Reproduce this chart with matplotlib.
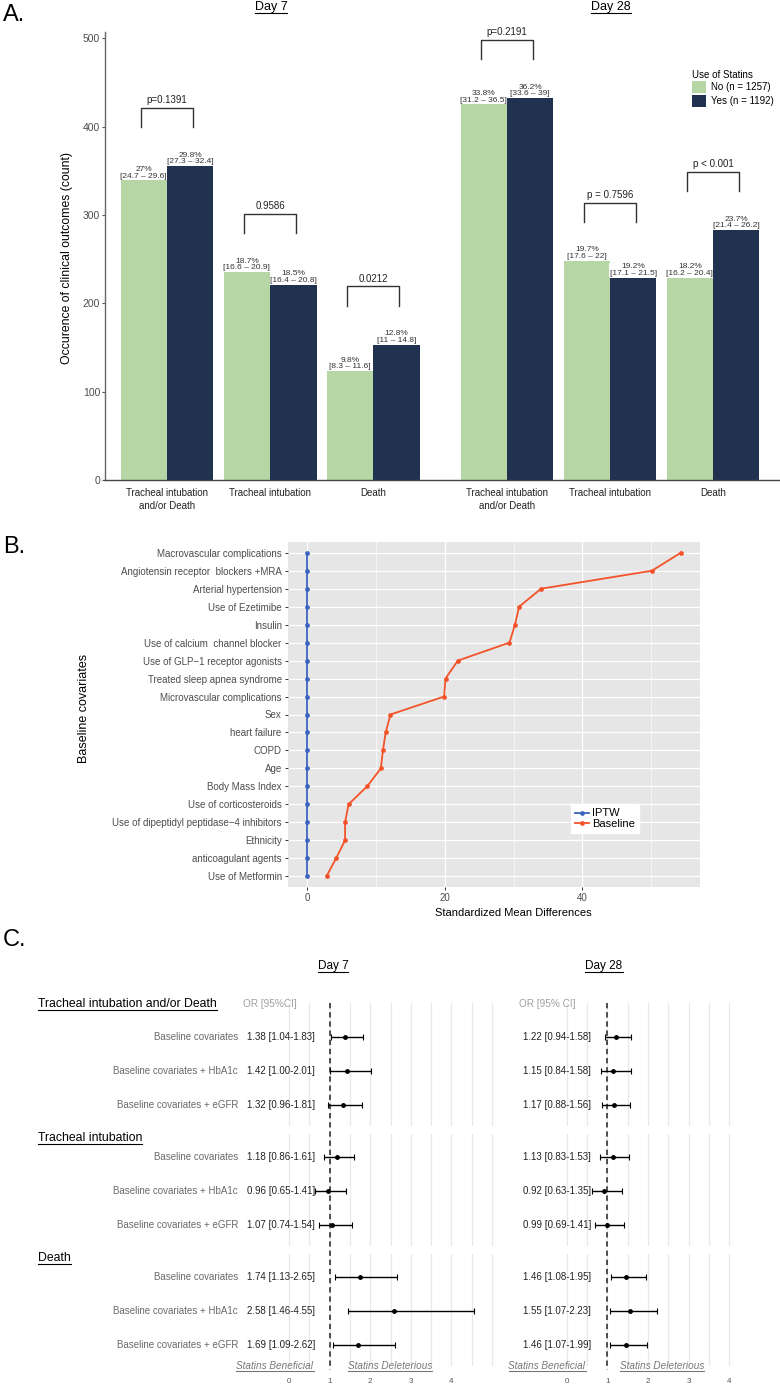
import numpy as np
import matplotlib
matplotlib.use('Agg')
import matplotlib.pyplot as plt
from matplotlib.lines import Line2D
from matplotlib import transforms

# ---- Panel A : clinical outcomes ----
outcomes = ['Tracheal intubation\nand/or Death', 'Tracheal intubation', 'Death']
days = ['Day 7', 'Day 28']
count_no = [339, 235, 123, 425, 248, 229]
count_yes = [355, 221, 153, 432, 229, 283]
pct_no = ['27%', '18.7%', '9.8%', '33.8%', '19.7%', '18.2%']
ci_no = ['24.7 – 29.6', '16.6 – 20.9', '8.3 – 11.6', '31.2 – 36.5', '17.6 – 22', '16.2 – 20.4']
pct_yes = ['29.8%', '18.5%', '12.8%', '36.2%', '19.2%', '23.7%']
ci_yes = ['27.3 – 32.4', '16.4 – 20.8', '11 – 14.8', '33.6 – 39', '17.1 – 21.5', '21.4 – 26.2']
p_values = ['p=0.1391', '0.9586', '0.0212', 'p=0.2191', 'p = 0.7596', 'p < 0.001']
legend_labels = ['No (n = 1257)', 'Yes (n = 1192)']

# ---- Panel B : standardized mean differences ----
covariates = ['Macrovascular complications', 'Angiotensin receptor  blockers +MRA',
              'Arterial hypertension', 'Use of Ezetimibe', 'Insulin',
              'Use of calcium  channel blocker', 'Use of GLP−1 receptor agonists',
              'Treated sleep apnea syndrome', 'Microvascular complications', 'Sex',
              'heart failure', 'COPD', 'Age', 'Body Mass Index', 'Use of corticosteroids',
              'Use of dipeptidyl peptidase−4 inhibitors', 'Ethnicity',
              'anticoagulant agents', 'Use of Metformin']
smd_baseline = [54.3, 50.1, 34.0, 30.8, 30.2, 29.4, 21.9, 20.1, 19.9, 12.1,
                11.4, 11.0, 10.7, 8.7, 6.0, 5.5, 5.5, 4.2, 2.8]
smd_iptw = [0.0, 0.0, 0.0, 0.0, 0.0, 0.0, 0.0, 0.0, 0.0, 0.0,
            0.0, 0.0, 0.0, 0.0, 0.0, 0.0, 0.0, 0.0, 0.0]

# ---- Panel C : odds ratios ----
sections = ['Tracheal intubation and/or Death', 'Tracheal intubation', 'Death']
models = ['Baseline covariates', 'Baseline covariates + HbA1c', 'Baseline covariates + eGFR']
or_d7 = [1.38, 1.42, 1.32, 1.18, 0.96, 1.07, 1.74, 2.58, 1.69]
lo_d7 = [1.04, 1.00, 0.96, 0.86, 0.65, 0.74, 1.13, 1.46, 1.09]
hi_d7 = [1.83, 2.01, 1.81, 1.61, 1.41, 1.54, 2.65, 4.55, 2.62]
or_d28 = [1.22, 1.15, 1.17, 1.13, 0.92, 0.99, 1.46, 1.55, 1.46]
lo_d28 = [0.94, 0.84, 0.88, 0.83, 0.63, 0.69, 1.08, 1.07, 1.07]
hi_d28 = [1.58, 1.58, 1.56, 1.53, 1.35, 1.41, 1.95, 2.23, 1.99]

GREEN = '#b6d6a6'
NAVY = '#20324f'
BLUE = '#3b63c0'
ORANGE = '#f4532a'

plt.rcParams['font.family'] = ['Liberation Sans', 'DejaVu Sans']

W, H = 780, 1386
fig = plt.figure(figsize=(W / 100, H / 100), dpi=100)


def rect(x0, y0, x1, y1):
    return [x0 / W, 1 - y1 / H, (x1 - x0) / W, (y1 - y0) / H]


def ftext(x, y, s, **kw):
    return fig.text(x / W, 1 - y / H, s, **kw)


to_underline = []

# ================= A =================
axA = fig.add_axes(rect(105, 32, 780, 480))
xpos = np.arange(6) + np.where(np.arange(6) >= 3, 0.30, 0.0)
bw = 0.451
axA.bar(xpos - bw / 2, count_no, bw, color=GREEN, label=legend_labels[0], zorder=2)
axA.bar(xpos + bw / 2, count_yes, bw, color=NAVY, label=legend_labels[1], zorder=2)

lab_kw = dict(ha='center', va='bottom', fontsize=6, color='#333333',
              linespacing=0.9, zorder=3,
              bbox=dict(facecolor='white', edgecolor='none', pad=0.2))
for i in range(6):
    axA.text(xpos[i] - bw / 2, count_no[i] + 1, f'{pct_no[i]}\n[{ci_no[i]}]', **lab_kw)
    axA.text(xpos[i] + bw / 2, count_yes[i] + 1, f'{pct_yes[i]}\n[{ci_yes[i]}]', **lab_kw)
    top = max(count_no[i], count_yes[i]) + 66
    axA.plot([xpos[i] - 0.25, xpos[i] - 0.25, xpos[i] + 0.25, xpos[i] + 0.25],
             [top - 22, top, top, top - 22], color='#333333', lw=1)
    axA.text(xpos[i], top + 3, p_values[i], ha='center', va='bottom',
             fontsize=7, color='#222222')

axA.set_xlim(-0.602, 5.95)
axA.set_ylim(0, 507)
axA.set_yticks([0, 100, 200, 300, 400, 500])
axA.tick_params(axis='y', length=2.5, width=0.8, color='#555555', labelsize=7.5,
                labelcolor='#4d4d4d', pad=1)
axA.set_xticks(xpos)
axA.set_xticklabels(outcomes * 2, fontsize=7, color='#222222', linespacing=1.3)
axA.tick_params(axis='x', length=0, pad=6)
for s in ['top', 'right']:
    axA.spines[s].set_visible(False)
axA.spines['left'].set_color('#666666')
axA.spines['bottom'].set_color('#444444')
axA.spines['left'].set_linewidth(1)
axA.spines['bottom'].set_linewidth(1)

ftext(67, 258, 'Occurence of clinical outcomes (count)', rotation=90, ha='center',
      va='center', fontsize=8.8)
for d, xc in zip(days, [271, 611]):
    to_underline.append(ftext(xc, 7, d, ha='center', va='center', fontsize=9))

legA = axA.legend(loc='upper left', bbox_to_anchor=(688 / W, 1 - 66 / H),
                  bbox_transform=fig.transFigure, frameon=False, title='Use of Statins',
                  fontsize=7, title_fontsize=7, handlelength=1.45, handleheight=1.5,
                  handletextpad=0.5, labelspacing=0.15, alignment='left', borderaxespad=0)

ftext(3, 15, 'A.', fontsize=17, va='center', ha='left')

# ================= B =================
axB = fig.add_axes(rect(288, 542, 700, 887))
axB.set_facecolor('#e6e6e6')
ypos = np.arange(len(covariates))[::-1]
axB.plot(smd_iptw, ypos, color=BLUE, marker='o', ms=2.4, lw=1.3, label='IPTW', zorder=3)
axB.plot(smd_baseline, ypos, color=ORANGE, marker='o', ms=2.4, lw=1.3, label='Baseline',
         zorder=3)
axB.set_xlim(-2.8, 57.1)
axB.set_ylim(-0.6, len(covariates) - 0.4)
axB.set_yticks(ypos)
axB.set_yticklabels(covariates)
axB.set_xticks([0, 20, 40])
axB.set_xticks([10, 30, 50], minor=True)
axB.grid(which='major', color='white', lw=0.9)
axB.grid(which='minor', axis='x', color='white', lw=0.45)
axB.set_axisbelow(True)
axB.tick_params(which='major', length=2.5, width=0.7, color='#333333', labelsize=7,
                labelcolor='#4d4d4d', pad=2)
axB.tick_params(which='minor', length=0)
for s in axB.spines.values():
    s.set_visible(False)
ftext(513, 913, 'Standardized Mean Differences', ha='center', va='center', fontsize=8)
ftext(84, 708, 'Baseline covariates', rotation=90, ha='center', va='center', fontsize=9)
legB = axB.legend(loc='upper left', bbox_to_anchor=(571 / W, 1 - 804 / H),
                  bbox_transform=fig.transFigure, frameon=True, fancybox=False,
                  facecolor='white', edgecolor='white', framealpha=1, fontsize=8,
                  handlelength=1.2, handletextpad=0.3, labelspacing=0.05,
                  borderpad=0.4, borderaxespad=0)
ftext(3, 547, 'B.', fontsize=17, va='center', ha='left')

# ================= C =================
ftext(3, 940, 'C.', fontsize=17, va='center', ha='left')
ROW = 34.0
Y0 = 1037
pitch = 3.53
ytop, ybot = 995, 1370


def setup_forest(rect_px, xlim, gmax, ors, los, his, or_x, or_head, title_x, title):
    ax = fig.add_axes(rect(*rect_px))
    ax.set_xlim(*xlim)
    ax.set_ylim((ybot - Y0) / ROW, (ytop - Y0) / ROW)
    for s in ax.spines.values():
        s.set_visible(False)
    ax.set_yticks([])
    ax.set_xticks([0, 1, 2, 3, 4])
    ax.tick_params(axis='x', length=0, labelsize=5.8, labelcolor='#555555', pad=6)
    yrow = []
    for i in range(len(sections)):
        base = i * pitch
        start = -1.0 if i == 0 else -0.68
        for gx in np.arange(0, gmax + 0.01, 0.5):
            ax.plot([gx, gx], [base + start, base + 2.6], color='#e8e8e8', lw=0.9, zorder=0)
        yrow += [base + j for j in range(len(models))]
    yrow = np.array(yrow)
    ax.plot([1, 1], [-1.0, (ybot - Y0) / ROW], color='#222222', lw=1.1,
            ls=(0, (3.5, 2.5)), zorder=1)
    ors, los, his = np.array(ors), np.array(los), np.array(his)
    ax.errorbar(ors, yrow, xerr=[ors - los, his - ors], fmt='o', ms=2.5, color='black',
                ecolor='black', elinewidth=1, capsize=2, capthick=0.8, zorder=3)
    bt = transforms.blended_transform_factory(fig.transFigure, ax.transData)
    for k in range(len(yrow)):
        ax.text(or_x / W, yrow[k], f'{ors[k]:.2f} [{los[k]:.2f}-{his[k]:.2f}]',
                transform=bt, ha='left', va='center', fontsize=7, color='#222222')
    ax.text(or_x / W - 4 / W, -0.97, or_head, transform=bt, ha='left', va='center',
            fontsize=7.2, color='#a0a0a0')
    to_underline.append(ftext(title_x, 966, title, ha='center', va='center', fontsize=8.5))
    return ax, yrow, bt


ax7, yrow, bt7 = setup_forest((280, ytop, 500, ybot), (-0.222, 5.197), 5.0,
                              or_d7, lo_d7, hi_d7, 247, 'OR [95%CI]', 333, 'Day 7')
ax28, _, _ = setup_forest((558, ytop, 740, ybot), (-0.214, 4.268), 4.0,
                          or_d28, lo_d28, hi_d28, 523, 'OR [95% CI]', 604, 'Day 28')

for i, sec in enumerate(sections):
    off = -0.97 if i == 0 else -0.55
    to_underline.append(ax7.text(38 / W, i * pitch + off, sec, transform=bt7, ha='left',
                                 va='center', fontsize=8.8, color='black'))
    for j, m in enumerate(models):
        ax7.text(238 / W, i * pitch + j, m, transform=bt7, ha='right', va='center',
                 fontsize=7, color='#6a6a6a')

for xc, s in [(275, 'Statins Beneficial'), (390, 'Statins Deleterious'),
              (547, 'Statins Beneficial'), (662, 'Statins Deleterious')]:
    t = ftext(xc, 1366, s, ha='center', va='center', fontsize=7.2, style='italic',
              color='#777777')
    to_underline.append(t)

# underline texts
fig.canvas.draw()
r = fig.canvas.get_renderer()
for t in to_underline:
    bb = t.get_window_extent(r)
    fw, fh = fig.bbox.width, fig.bbox.height
    fig.add_artist(Line2D([bb.x0 / fw, bb.x1 / fw], [(bb.y0 + 0.5) / fh] * 2,
                          transform=fig.transFigure, color=t.get_color(), lw=0.8))

fig.savefig('out.png', dpi=100)
